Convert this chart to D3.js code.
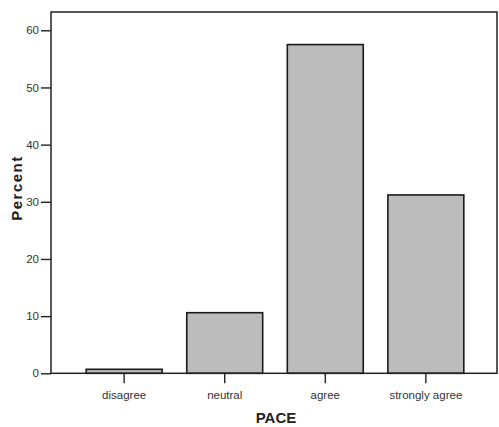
<!DOCTYPE html>
<html><head><meta charset="utf-8">
<script src="https://cdn.jsdelivr.net/npm/d3@7"></script>
<style>body{margin:0;background:#fff}</style>
</head><body>
<svg id="c" width="499" height="427"></svg>
<script>
const categories = ["disagree", "neutral", "agree", "strongly agree"];
const percents = [0.7, 10.6, 57.5, 31.2];
const yTicks = [0, 10, 20, 30, 40, 50, 60];
const xTitle = "PACE";
const yTitle = "Percent";

const svg = d3.select("#c");
const L = 51, R = 497, T = 12, B = 373.3;
const x = d3.scaleBand().domain(categories).range([L + 1, R + 1]).paddingInner(0.245).paddingOuter(0.34);
const y = d3.scaleLinear().domain([0, 63.2]).range([B, T]);

// bars
svg.append("g").selectAll("rect").data(percents).join("rect")
  .attr("x", (d, i) => x(categories[i]))
  .attr("y", d => y(d))
  .attr("width", x.bandwidth())
  .attr("height", d => B - y(d))
  .attr("fill", "#bcbcbc")
  .attr("stroke", "#1a1a1a")
  .attr("stroke-width", 1.6);

// frame
svg.append("rect").attr("x", L).attr("y", T).attr("width", R - L).attr("height", B - T)
  .attr("fill", "none").attr("stroke", "#222").attr("stroke-width", 1.5);

const font = "Arial, 'Liberation Sans', sans-serif";
// y axis
const ya = svg.append("g").attr("transform", `translate(${L},0)`)
  .call(d3.axisLeft(y).tickValues(yTicks).tickSize(10).tickPadding(2).tickFormat(d3.format("d")));
ya.select(".domain").remove();
ya.selectAll("line").attr("stroke", "#222").attr("stroke-width", 1.4);
ya.selectAll("text").attr("font-family", font).attr("font-size", 11.5).attr("fill", "#333");

// x axis
const xa = svg.append("g").attr("transform", `translate(0,${B})`)
  .call(d3.axisBottom(x).tickSize(10).tickPadding(8));
xa.select(".domain").remove();
xa.selectAll("line").attr("stroke", "#222").attr("stroke-width", 1.4);
xa.selectAll("text").attr("font-family", font).attr("font-size", 11.5).attr("fill", "#333");

svg.append("text").attr("x", 276).attr("y", 423).attr("text-anchor", "middle")
  .attr("font-family", font).attr("font-weight", "bold").attr("font-size", 15).attr("fill", "#222")
  .text(xTitle);

svg.append("text").attr("transform", "translate(22,188) rotate(-90)").attr("text-anchor", "middle")
  .attr("font-family", font).attr("font-weight", "bold").attr("font-size", 15)
  .attr("letter-spacing", 1.5).attr("fill", "#222")
  .text(yTitle);
</script>
</body></html>
